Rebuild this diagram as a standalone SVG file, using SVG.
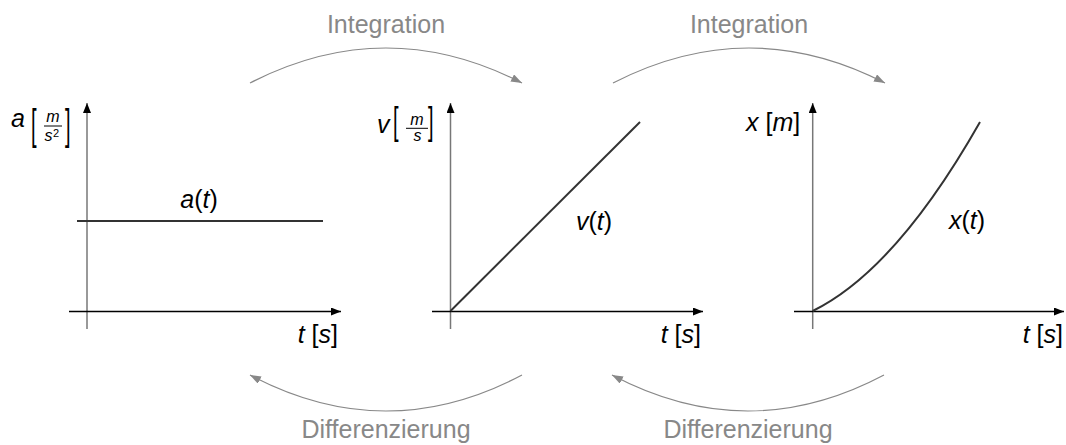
<svg xmlns="http://www.w3.org/2000/svg" width="1066" height="445" viewBox="0 0 1066 445">
<style>
text{font-family:"Liberation Sans",Arial,sans-serif;}
.it{font-style:italic;fill:#000;}
.up{font-style:normal;}
.title{font-size:25px;fill:#888;text-anchor:middle;}
.hax{stroke:#000;stroke-width:1.5;fill:none;marker-end:url(#ah);}
.vax{stroke:#777;stroke-width:1.5;fill:none;marker-end:url(#ah);}
.curve{stroke:#333;stroke-width:2;fill:none;}
.arc{stroke:#888;stroke-width:1.2;fill:none;marker-end:url(#ga);}
</style>
<defs>
<marker id="ah" markerUnits="userSpaceOnUse" markerWidth="12" markerHeight="10" refX="10" refY="4" orient="auto"><path d="M0,0 L10,4 L0,8 Z" fill="#000"/></marker>
<marker id="ga" markerUnits="userSpaceOnUse" markerWidth="12" markerHeight="10" refX="11" refY="4" orient="auto"><path d="M0,0 L11,4 L0,8 Z" fill="#888"/></marker>
</defs>
<g id="connectors">
<path class="arc" d="M250,83 Q386,13 522,83"/>
<path class="arc" d="M613,83 Q749,13 885,83"/>
<path class="arc" d="M522,375 Q386,447 250,375"/>
<path class="arc" d="M884,375 Q748,447 612,375"/>
</g>
<g id="label-int1"><text class="title" x="386" y="33">Integration</text></g>
<g id="label-int2"><text class="title" x="749" y="33">Integration</text></g>
<g id="label-diff1"><text class="title" x="386" y="438">Differenzierung</text></g>
<g id="label-diff2"><text class="title" x="748" y="438">Differenzierung</text></g>
<g id="panel-a">
<line class="vax" x1="87" y1="329" x2="87" y2="103"/>
<line class="hax" x1="69" y1="311.5" x2="341" y2="311.5"/>
<line class="curve" x1="77" y1="221" x2="323" y2="221"/>
<text class="it" x="199" y="208" font-size="25" text-anchor="middle">a<tspan class="up">(</tspan>t<tspan class="up">)</tspan></text>
<text class="it" x="338" y="343" font-size="25" text-anchor="end">t <tspan class="up">[</tspan>s<tspan class="up">]</tspan></text>
<text class="it" x="11" y="127" font-size="25">a</text>
<text transform="translate(31,138.6) scale(1,2.1)" font-size="20">[</text>
<text class="it" x="53" y="122" font-size="16" text-anchor="middle">m</text>
<line x1="44" y1="126" x2="62" y2="126" stroke="#000" stroke-width="1"/>
<text class="it" x="44.5" y="141" font-size="16">s</text>
<text x="53" y="136.5" font-size="11">2</text>
<text transform="translate(65,138.6) scale(1,2.1)" font-size="20">]</text>
</g>
<g id="panel-v">
<line class="vax" x1="450.5" y1="329" x2="450.5" y2="103"/>
<line class="hax" x1="432" y1="311.5" x2="703" y2="311.5"/>
<line class="curve" x1="450.5" y1="311" x2="640" y2="122"/>
<text class="it" x="594" y="230" font-size="25" text-anchor="middle">v<tspan class="up">(</tspan>t<tspan class="up">)</tspan></text>
<text class="it" x="701" y="343" font-size="25" text-anchor="end">t <tspan class="up">[</tspan>s<tspan class="up">]</tspan></text>
<text class="it" x="377" y="133" font-size="25">v</text>
<text transform="translate(393,133.7) scale(1,1.9)" font-size="20">[</text>
<text class="it" x="417" y="125" font-size="16" text-anchor="middle">m</text>
<line x1="406" y1="128.3" x2="428" y2="128.3" stroke="#000" stroke-width="1"/>
<text class="it" x="417.5" y="141" font-size="16" text-anchor="middle">s</text>
<text transform="translate(428,133.7) scale(1,1.9)" font-size="20">]</text>
</g>
<g id="panel-x">
<line class="vax" x1="812.7" y1="329" x2="812.7" y2="103"/>
<line class="hax" x1="794" y1="311.5" x2="1064" y2="311.5"/>
<path class="curve" d="M812.7,311 Q896,270 980,122"/>
<text class="it" x="967" y="229" font-size="25" text-anchor="middle">x<tspan class="up">(</tspan>t<tspan class="up">)</tspan></text>
<text class="it" x="1063" y="343" font-size="25" text-anchor="end">t <tspan class="up">[</tspan>s<tspan class="up">]</tspan></text>
<text class="it" x="746" y="131" font-size="25">x <tspan class="up">[</tspan>m<tspan class="up">]</tspan></text>
</g>
</svg>
